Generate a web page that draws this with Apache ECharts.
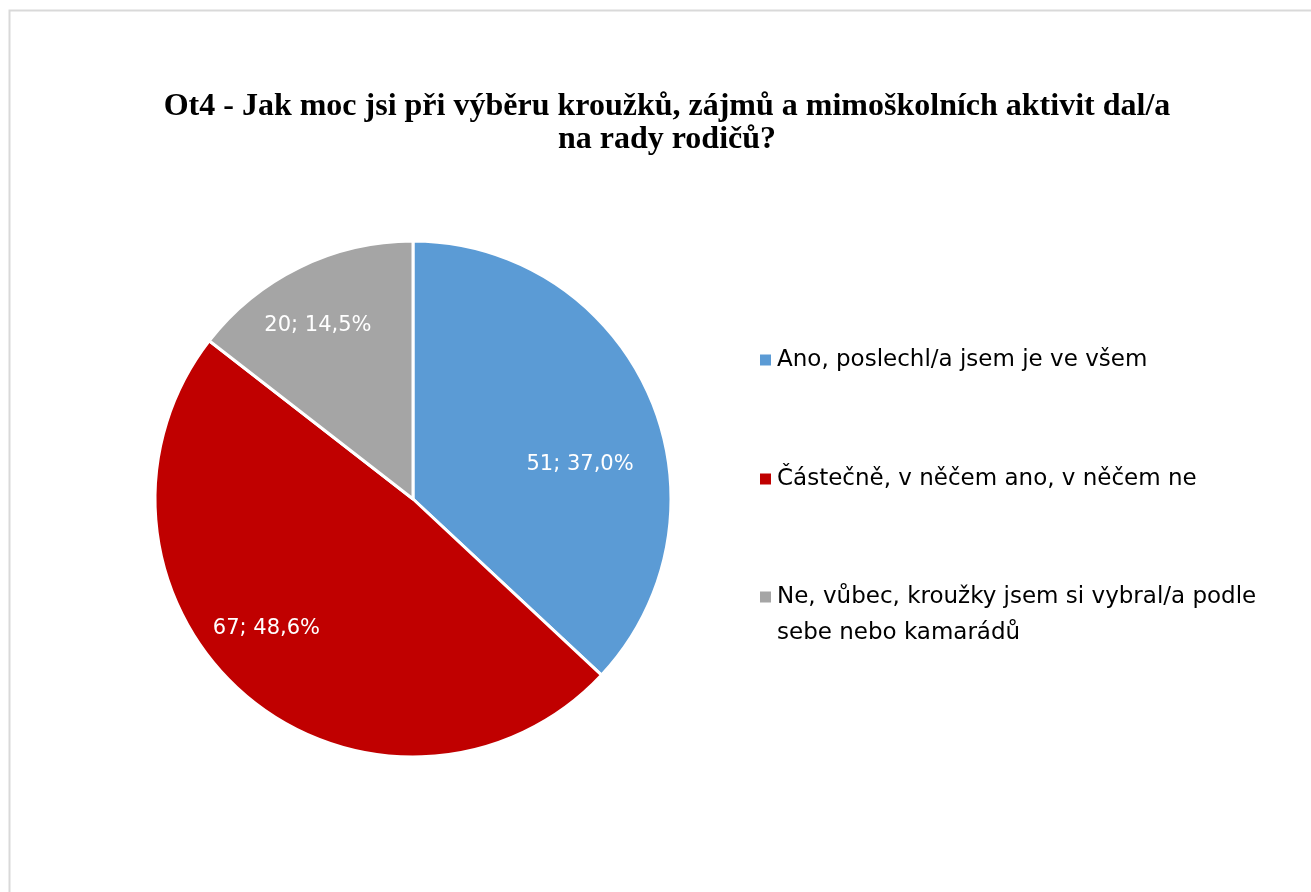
<!DOCTYPE html>
<html>
<head>
<meta charset="utf-8">
<script src="https://cdn.jsdelivr.net/npm/echarts@6/dist/echarts.min.js"></script>
<style>
html,body{margin:0;padding:0;background:#fff;}
#chart{width:1311px;height:892px;}
</style>
</head>
<body>
<div id="chart"></div>
<script>
const titleText = 'Ot4 - Jak moc jsi při výběru kroužků, zájmů a mimoškolních aktivit dal/a\nna rady rodičů?';
const categories = [
  'Ano, poslechl/a jsem je ve všem',
  'Částečně, v něčem ano, v něčem ne',
  'Ne, vůbec, kroužky jsem si vybral/a podle sebe nebo kamarádů'
];
const counts = [51, 67, 20];
const percents = ['37,0%', '48,6%', '14,5%'];
const colors = ['#5B9BD5', '#C00000', '#A5A5A5'];

const labelOffsets = [[46, 18], [-61, 29], [-37, -55]];
const legendTops = [342, 461, 579];

const chart = echarts.init(document.getElementById('chart'), null, {renderer: 'canvas'});

const sq = 'path://M0,0h13v13h-13z';
const sqTop = 'path://M0,0h13v13h-13z M0,48.99h0.01v0.01h-0.01z';

const legends = categories.map((c, i) => ({
  orient: 'vertical',
  left: 758,
  top: legendTops[i],
  padding: 0,
  data: [{name: c, icon: i === 2 ? sqTop : sq}],
  itemWidth: 13,
  itemHeight: i === 2 ? 49 : 13,
  symbolKeepAspect: true,
  selectedMode: false,
  formatter: function (n) { return n.replace(' podle sebe', ' podle\nsebe'); },
  textStyle: {
    fontFamily: 'DejaVu Sans',
    fontSize: 23,
    color: '#000',
    lineHeight: 36
  }
}));

chart.setOption({
  animation: false,
  title: {
    text: titleText,
    left: 667,
    top: 90,
    padding: 0,
    textAlign: 'center',
    textStyle: {
      fontFamily: 'Liberation Serif',
      fontWeight: 'bold',
      fontSize: 32,
      lineHeight: 33,
      color: '#000'
    }
  },
  graphic: [{
    type: 'rect',
    shape: {x: 9.5, y: 10.5, width: 1400, height: 1000},
    style: {fill: 'none', stroke: '#d9d9d9', lineWidth: 2},
    silent: true
  }],
  legend: legends,
  series: [{
    type: 'pie',
    center: [413, 499],
    radius: [0, 258],
    startAngle: 90,
    clockwise: true,
    color: colors,
    itemStyle: {borderColor: '#fff', borderWidth: 3},
    label: {
      show: true,
      position: 'inside',
      color: '#fff',
      fontFamily: 'DejaVu Sans',
      fontSize: 21,
      formatter: function (p) { return counts[p.dataIndex] + '; ' + percents[p.dataIndex]; }
    },
    labelLine: {show: false},
    labelLayout: function (p) {
      const o = labelOffsets[p.dataIndex];
      return {dx: o[0], dy: o[1]};
    },
    emphasis: {disabled: true},
    data: categories.map((c, i) => ({name: c, value: counts[i]}))
  }]
});
</script>
</body>
</html>
